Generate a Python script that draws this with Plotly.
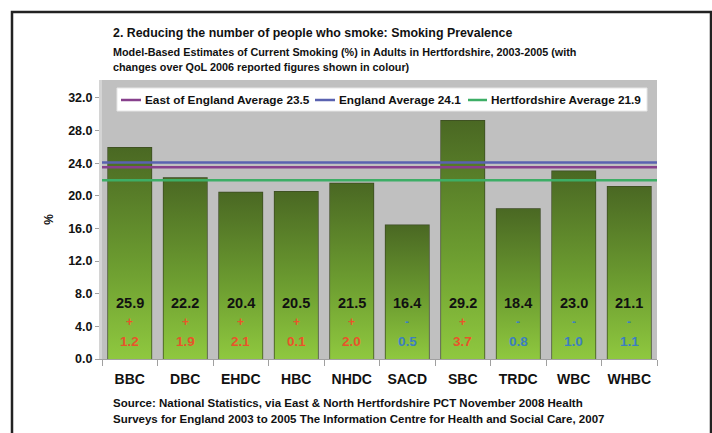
import plotly.graph_objects as go

categories = ['BBC', 'DBC', 'EHDC', 'HBC', 'NHDC', 'SACD', 'SBC', 'TRDC', 'WBC', 'WHBC']
values = [25.9, 22.2, 20.4, 20.5, 21.5, 16.4, 29.2, 18.4, 23.0, 21.1]
signs = ['+', '+', '+', '+', '+', '-', '+', '-', '-', '-']
changes = [1.2, 1.9, 2.1, 0.1, 2.0, 0.5, 3.7, 0.8, 1.0, 1.1]
avg_names = ['East of England Average 23.5', 'England Average 24.1', 'Hertfordshire Average 21.9']
avg_values = [23.5, 24.1, 21.9]
avg_colors = ['#87408c', '#5a62b0', '#3dae66']
y_ticks = [0, 4, 8, 12, 16, 20, 24, 28, 32]

FONT = 'Liberation Sans, Arial, sans-serif'
W = 0.78
xpos = list(range(len(categories)))

# pixel -> paper helpers (plot area: x 102..657, y 80..359)
px2x = lambda px: (px - 102) / 555
py2y = lambda py: (359 - py) / 279

fig = go.Figure()

# gradient fills of bars
for i, v in zip(xpos, values):
    fig.add_trace(go.Scatter(
        x=[i - W / 2, i + W / 2, i + W / 2, i - W / 2, i - W / 2],
        y=[0, 0, v, v, 0],
        mode='lines', fill='toself', line=dict(width=0),
        fillgradient=dict(type='vertical',
                          colorscale=[[0, '#8fc83f'], [0.45, '#6c9c30'], [1, '#4a6823']]),
        showlegend=False, hoverinfo='skip'))

# bar outlines
fig.add_trace(go.Bar(
    x=xpos, y=values, width=W,
    marker=dict(color='rgba(0,0,0,0)', line=dict(color='#3b4a22', width=1.5)),
    showlegend=False, hoverinfo='x+y'))

# average lines
for name, v, c in zip(avg_names, avg_values, avg_colors):
    fig.add_trace(go.Scatter(
        x=[-0.5, len(categories) - 0.5], y=[v, v], mode='lines',
        line=dict(color=c, width=2.5), name=name, showlegend=False))

# legend box (drawn manually to match the original layout)
fig.add_shape(type='rect', xref='paper', yref='paper',
              x0=px2x(117), x1=px2x(647), y0=py2y(111), y1=py2y(88),
              line=dict(color='#e6e6e6', width=1), fillcolor='white', layer='above')
leg_line_x = [(121, 141), (315, 335), (468, 487)]
leg_text_x = [143, 337, 489]
for name, c, (a, b), tx in zip(avg_names, avg_colors, leg_line_x, leg_text_x):
    fig.add_shape(type='line', xref='paper', yref='paper',
                  x0=px2x(a), x1=px2x(b), y0=py2y(100), y1=py2y(100),
                  line=dict(color=c, width=2.5), layer='above')
    fig.add_annotation(xref='paper', yref='paper', x=px2x(tx), y=py2y(100),
                       xanchor='left', yanchor='middle', text=name, showarrow=False,
                       font=dict(family=FONT, size=11.8, color='#111111', weight='bold'))

# labels in bars
for i, v, s, ch in zip(xpos, values, signs, changes):
    col = '#e8542a' if s == '+' else '#3c7fc0'
    fig.add_annotation(x=i, y=6.9, text=f'{v:.1f}', showarrow=False,
                       font=dict(family=FONT, size=14.5, color='#111111', weight='bold'))
    fig.add_annotation(x=i, y=4.5, text=s, showarrow=False,
                       font=dict(family=FONT, size=12, color=col, weight='bold'))
    fig.add_annotation(x=i, y=2.1, text=f'{ch:.1f}', showarrow=False,
                       font=dict(family=FONT, size=13.5, color=col, weight='bold'))

# titles and source
fig.add_annotation(xref='paper', yref='paper', x=px2x(111), y=py2y(33), xanchor='left', yanchor='middle',
                   text='2. Reducing the number of people who smoke: Smoking Prevalence', showarrow=False,
                   font=dict(family=FONT, size=12.4, color='#111111', weight='bold'))
fig.add_annotation(xref='paper', yref='paper', x=px2x(111), y=py2y(52), xanchor='left', yanchor='middle',
                   text='Model-Based Estimates of Current Smoking (%) in Adults in Hertfordshire, 2003-2005 (with',
                   showarrow=False, font=dict(family=FONT, size=10.8, color='#111111', weight='bold'))
fig.add_annotation(xref='paper', yref='paper', x=px2x(111), y=py2y(67), xanchor='left', yanchor='middle',
                   text='changes over QoL 2006 reported figures shown in colour)',
                   showarrow=False, font=dict(family=FONT, size=10.8, color='#111111', weight='bold'))
fig.add_annotation(xref='paper', yref='paper', x=px2x(111), y=py2y(403), xanchor='left', yanchor='middle',
                   text='Source: National Statistics, via East & North Hertfordshire PCT November 2008 Health',
                   showarrow=False, font=dict(family=FONT, size=11.5, color='#111111', weight='bold'))
fig.add_annotation(xref='paper', yref='paper', x=px2x(111), y=py2y(419), xanchor='left', yanchor='middle',
                   text='Surveys for England 2003 to 2005 The Information Centre for Health and Social Care, 2007',
                   showarrow=False, font=dict(family=FONT, size=11.5, color='#111111', weight='bold'))

# frame
fig.add_shape(type='rect', xref='paper', yref='paper',
              x0=px2x(12), x1=px2x(711), y0=py2y(445), y1=py2y(12),
              line=dict(color='#222222', width=2.5), fillcolor='rgba(0,0,0,0)', layer='below')

fig.update_layout(
    width=712, height=433,
    margin=dict(l=102, r=55, t=80, b=74),
    paper_bgcolor='white', plot_bgcolor='#c0c0c0',
    font=dict(family=FONT, color='#111111'),
    showlegend=False,
    xaxis=dict(range=[-0.5, len(categories) - 0.5], tickvals=xpos, ticktext=categories,
               ticks='', showgrid=False, zeroline=False,
               showline=True, linecolor='#a0a0a0', linewidth=1,
               tickfont=dict(family=FONT, size=14, color='#111111', weight='bold'),
               minor=dict(tick0=0.5, dtick=1, ticks='outside', ticklen=6, tickcolor='#a0a0a0'),
               ticklabelstandoff=7),
    yaxis=dict(range=[0, 34.2], tickvals=y_ticks, ticktext=[f'{t:.1f}' for t in y_ticks],
               ticks='outside', ticklen=4, tickcolor='#a0a0a0', showgrid=False, zeroline=False,
               showline=True, linecolor='#d4d4d4', linewidth=3,
               tickfont=dict(family=FONT, size=12.5, color='#111111', weight='bold'),
               title=dict(text='%', standoff=12, font=dict(family=FONT, size=12, color='#111111', weight='bold'))),
)

fig.write_html('out.html')
